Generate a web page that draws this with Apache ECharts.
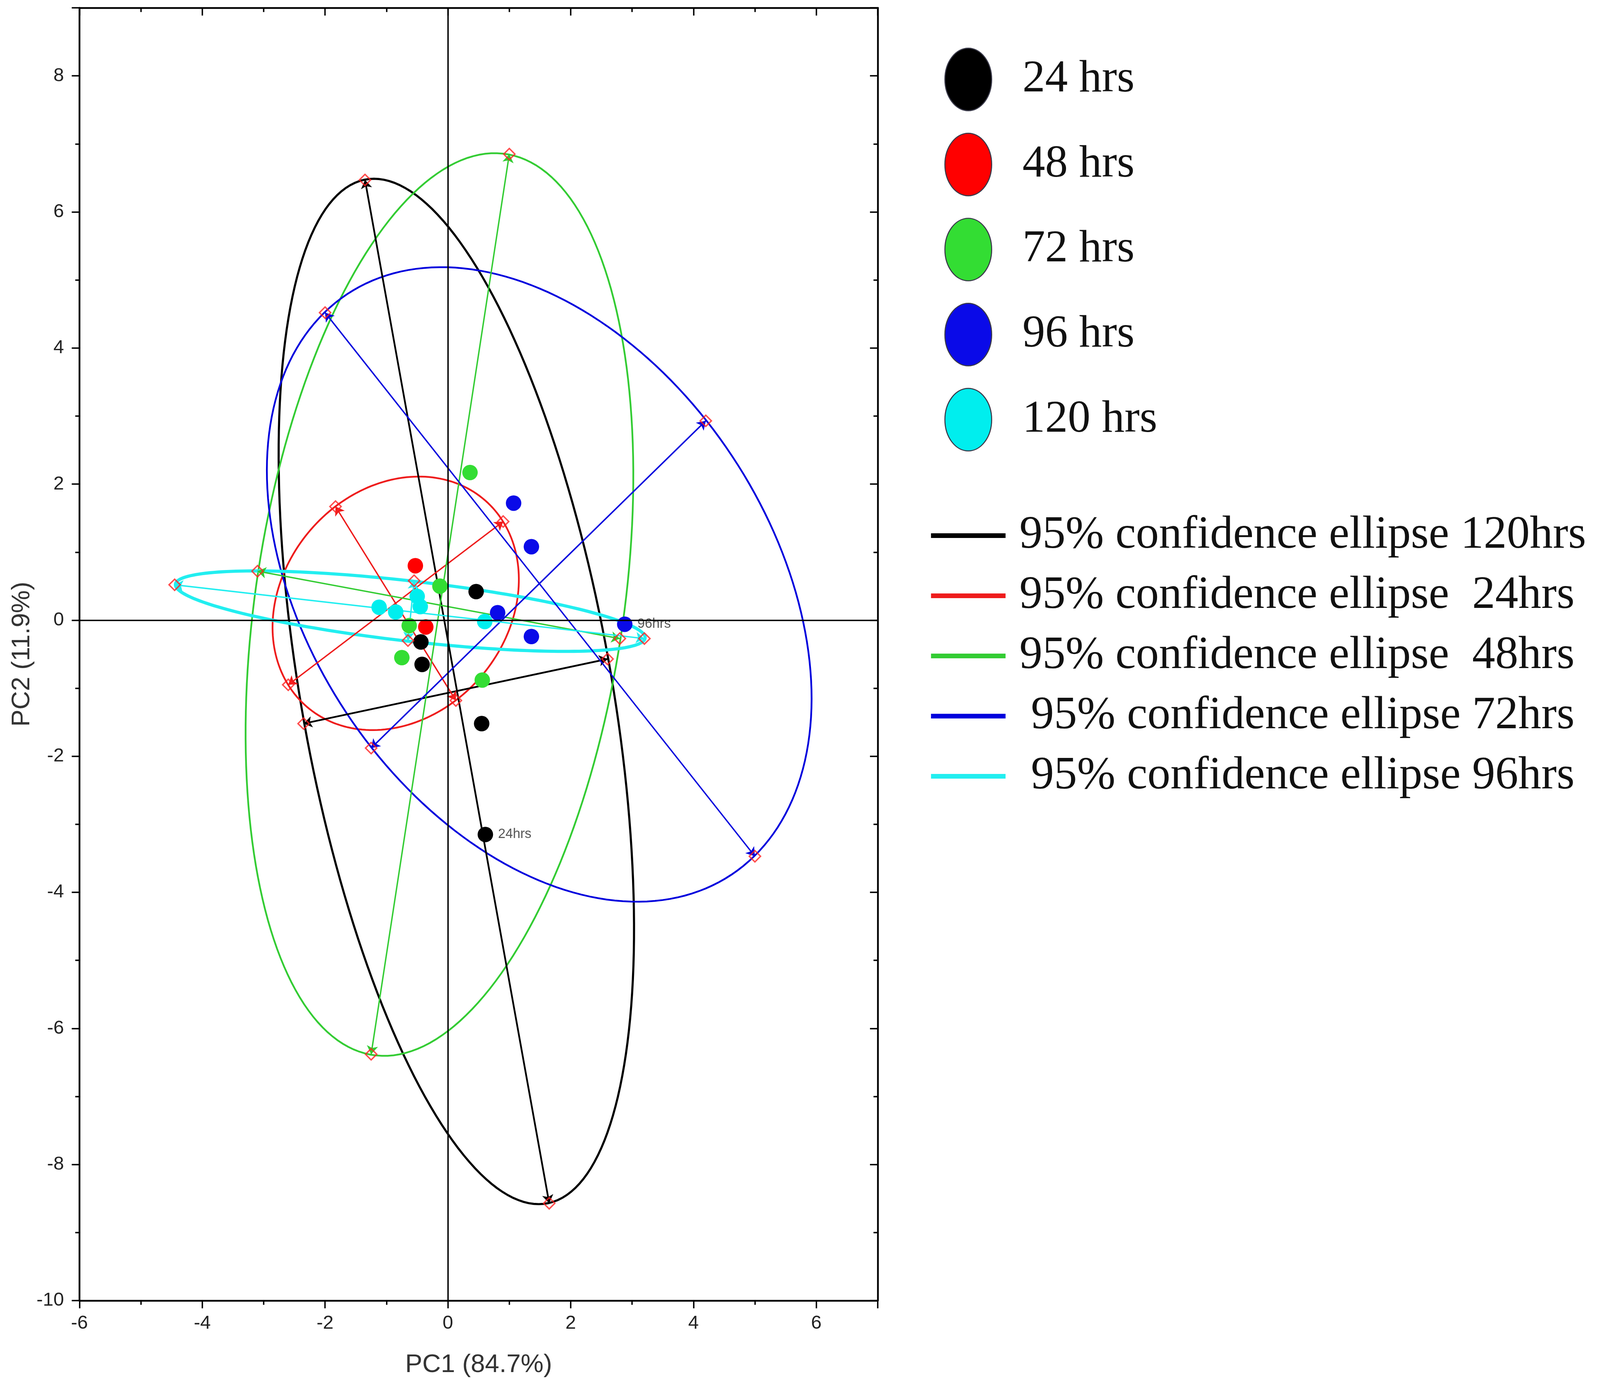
<!DOCTYPE html>
<html>
<head>
<meta charset="utf-8">
<title>PCA scores</title>
<script src="https://cdn.jsdelivr.net/npm/echarts@6/dist/echarts.min.js"></script>
<style>
  html, body { margin: 0; padding: 0; background: #fff; overflow: hidden; }
  #main { width: 100vw; height: 100vh; }
</style>
</head>
<body>
<div id="main"></div>
<script>
// groups and colours
var groups = ['24 hrs', '48 hrs', '72 hrs', '96 hrs', '120 hrs'];
var ellipseNames = [
  '95% confidence ellipse 120hrs',
  '95% confidence ellipse  24hrs',
  '95% confidence ellipse  48hrs',
  ' 95% confidence ellipse 72hrs',
  ' 95% confidence ellipse 96hrs'
];
var pointColors = ['#000000', '#ff0000', '#33dd33', '#0a0ae8', '#00eeee'];
var lineColors = ['#000000', '#ee1c1c', '#33cc33', '#0000dd', '#22eef0'];

// scores (PC1, PC2)
var pts24 = [[0.46, 0.42], [-0.44, -0.32], [-0.42, -0.65], [0.55, -1.52], [0.61, -3.15]];
var pts48 = [[-0.53, 0.80], [-0.36, -0.10]];
var pts72 = [[0.36, 2.17], [-0.13, 0.50], [-0.63, -0.08], [-0.75, -0.55], [0.56, -0.88]];
var pts96 = [[1.07, 1.72], [1.36, 1.08], [0.81, 0.11], [1.36, -0.24], [2.88, -0.06]];
var pts120 = [[-1.12, 0.19], [-0.85, 0.12], [-0.50, 0.35], [-0.45, 0.20], [0.60, -0.02]];
var points = [pts24, pts48, pts72, pts96, pts120];

// ellipse axis end points: [major end A, major end B], [minor end A, minor end B]
var majorAxes = [
  [[-1.35, 6.47], [1.65, -8.57]],
  [[-1.83, 1.67], [0.13, -1.18]],
  [[1.00, 6.85], [-1.25, -6.38]],
  [[-2.00, 4.52], [5.00, -3.47]],
  [[-4.45, 0.52], [3.20, -0.27]]
];
var minorAxes = [
  [[-2.35, -1.52], [2.60, -0.57]],
  [[0.90, 1.45], [-2.60, -0.95]],
  [[-3.10, 0.72], [2.80, -0.27]],
  [[4.20, 2.93], [-1.25, -1.88]],
  [[-0.55, 0.58], [-0.65, -0.30]]
];

// x and y tick labels
var xTicks = [-6, -4, -2, 0, 2, 4, 6];
var yTicks = [-10, -8, -6, -4, -2, 0, 2, 4, 6, 8];

window.onload = function () {
  var dom = document.getElementById('main');
  var myChart = echarts.init(dom);

  // layout was measured on a 4550 x 3563 page; scale to whatever we got
  var sx = dom.clientWidth / 4550;
  var sy = dom.clientHeight / 3563;
  var f = Math.min(sx, sy);

  function makeEllipse(lw) {
    return function (params, api) {
      var a = api.coord([api.value(0), api.value(1)]);
      var b = api.coord([api.value(2), api.value(3)]);
      var c = api.coord([api.value(4), api.value(5)]);
      var d = api.coord([api.value(6), api.value(7)]);
      var cx = (a[0] + b[0] + c[0] + d[0]) / 4;
      var cy = (a[1] + b[1] + c[1] + d[1]) / 4;
      var u = [(a[0] - b[0]) / 2, (a[1] - b[1]) / 2];
      var v = [(c[0] - d[0]) / 2, (c[1] - d[1]) / 2];
      var pts = [];
      for (var i = 0; i < 200; i++) {
        var t = i / 200 * Math.PI * 2;
        pts.push([cx + u[0] * Math.cos(t) + v[0] * Math.sin(t),
                  cy + u[1] * Math.cos(t) + v[1] * Math.sin(t)]);
      }
      return {
        type: 'polygon',
        shape: { points: pts },
        style: { fill: 'none', stroke: api.visual('color'), lineWidth: lw }
      };
    };
  }

  var series = [];
  // ellipses
  for (var k = 0; k < 5; k++) {
    var m = majorAxes[k], n = minorAxes[k];
    series.push({
      name: ellipseNames[k],
      type: 'custom',
      xAxisIndex: 0,
      yAxisIndex: 0,
      z: 2,
      silent: true,
      itemStyle: { color: lineColors[k] },
      renderItem: makeEllipse((k === 4 ? 9 : (k === 0 ? 6 : 5)) * f),
      encode: { x: [0, 2, 4, 6], y: [1, 3, 5, 7] },
      data: [[m[0][0], m[0][1], m[1][0], m[1][1], n[0][0], n[0][1], n[1][0], n[1][1]]]
    });
  }
  // ellipse axes with arrows
  for (var k2 = 0; k2 < 5; k2++) {
    series.push({
      name: 'axes' + k2,
      type: 'lines',
      coordinateSystem: 'cartesian2d',
      xAxisIndex: 0,
      yAxisIndex: 0,
      z: 3,
      silent: true,
      symbol: ['arrow', 'arrow'],
      symbolSize: 24 * f,
      lineStyle: { color: lineColors[k2], width: (k2 === 0 ? 5 : 4) * f, opacity: 1, curveness: 0 },
      data: [{ coords: majorAxes[k2] }, { coords: minorAxes[k2] }]
    });
  }
  // score points
  for (var g = 0; g < 5; g++) {
    var data = points[g].map(function (p) { return p.slice(); });
    if (g === 0) {
      data[4] = { value: pts24[4], label: { show: true, formatter: '24hrs' } };
    }
    if (g === 3) {
      data[4] = { value: pts96[4], label: { show: true, formatter: '96hrs' } };
    }
    var s = {
      name: groups[g],
      type: 'scatter',
      xAxisIndex: 0,
      yAxisIndex: 0,
      z: 4,
      symbol: 'circle',
      symbolSize: 44 * f,
      itemStyle: { color: pointColors[g], opacity: 1 },
      label: { show: false, position: 'right', distance: 14 * f, color: '#555', fontFamily: 'Liberation Sans', fontSize: 38 * f },
      data: data
    };
    if (g === 0) {
      s.markLine = {
        silent: true,
        symbol: 'none',
        label: { show: false },
        lineStyle: { color: '#000', width: 4 * f, type: 'solid' },
        data: [{ xAxis: 0 }, { yAxis: 0 }]
      };
    }
    series.push(s);
  }
  // axis end markers
  var ends = [];
  for (var e = 0; e < 5; e++) {
    ends.push(majorAxes[e][0], majorAxes[e][1], minorAxes[e][0], minorAxes[e][1]);
  }
  series.push({
    name: 'ends',
    type: 'scatter',
    xAxisIndex: 0,
    yAxisIndex: 0,
    z: 5,
    silent: true,
    symbol: 'diamond',
    symbolSize: 32 * f,
    itemStyle: { color: 'rgba(255,255,255,0)', borderColor: '#ff2020', borderWidth: 4 * f },
    data: ends
  });

  var lineW = 5 * f, tickW = 4 * f;
  var xBase = {
    type: 'value', min: -6, max: 7, interval: 2,
    splitLine: { show: false },
    axisLine: { show: true, onZero: false, lineStyle: { color: '#000', width: lineW } },
    minorTick: { show: true, splitNumber: 2, length: 12 * f, lineStyle: { color: '#000', width: tickW } }
  };
  var yBase = {
    type: 'value', min: -10, max: 9, interval: 2,
    splitLine: { show: false },
    axisLine: { show: true, onZero: false, lineStyle: { color: '#000', width: lineW } },
    minorTick: { show: true, splitNumber: 2, length: 12 * f, lineStyle: { color: '#000', width: tickW } }
  };
  var tickLabel = { fontFamily: 'Liberation Sans', fontSize: 54 * f, color: '#222', showMaxLabel: false };

  var option = {
    backgroundColor: '#ffffff',
    animation: false,
    grid: { left: 226 * sx, right: 2054 * sx, top: 20 * sy, bottom: 234 * sy },
    xAxis: [
      Object.assign({}, xBase, {
        position: 'bottom',
        name: 'PC1 (84.7%)',
        nameLocation: 'middle',
        nameGap: 132 * sy,
        nameTextStyle: { fontFamily: 'Liberation Sans', fontSize: 73 * f, color: '#333' },
        axisTick: { show: true, inside: false, length: 22 * f, lineStyle: { color: '#000', width: tickW } },
        axisLabel: Object.assign({}, tickLabel, {
          margin: 34 * sy,
          formatter: function (v) { return xTicks.indexOf(v) >= 0 ? String(v) : ''; }
        })
      }),
      Object.assign({}, xBase, {
        position: 'top',
        axisTick: { show: true, inside: true, length: 22 * f, lineStyle: { color: '#000', width: tickW } },
        axisLabel: { show: false }
      })
    ],
    yAxis: [
      Object.assign({}, yBase, {
        position: 'left',
        name: 'PC2 (11.9%)',
        nameLocation: 'middle',
        nameGap: 124 * sx,
        nameTextStyle: { fontFamily: 'Liberation Sans', fontSize: 73 * f, color: '#333' },
        axisTick: { show: true, inside: false, length: 22 * f, lineStyle: { color: '#000', width: tickW } },
        axisLabel: Object.assign({}, tickLabel, {
          margin: 44 * sx,
          formatter: function (v) { return yTicks.indexOf(v) >= 0 ? String(v) : ''; }
        })
      }),
      Object.assign({}, yBase, {
        position: 'right',
        axisTick: { show: true, inside: true, length: 22 * f, lineStyle: { color: '#000', width: tickW } },
        axisLabel: { show: false }
      })
    ],
    legend: [
      {
        orient: 'vertical',
        left: 2680 * sx,
        top: 117 * sy,
        itemWidth: 133 * sx,
        itemHeight: 160 * sy,
        itemGap: 55 * sy,
        selectedMode: false,
        symbolKeepAspect: false,
        icon: 'path://M50,0A50,50,0,1,1,50,100A50,50,0,1,1,50,0Z',
        itemStyle: { borderColor: '#3a3a4a', borderWidth: 3 * f },
        textStyle: { fontFamily: 'Liberation Serif', fontSize: 129 * f, color: '#111', padding: [0, 0, 0, 82 * sx] },
        data: groups
      },
      {
        orient: 'vertical',
        left: 2642 * sx,
        top: 1296 * sy,
        itemWidth: 212 * sx,
        itemHeight: 12 * sy,
        itemGap: 14 * sy,
        selectedMode: false,
        icon: 'rect',
        itemStyle: { borderWidth: 0 },
        textStyle: { fontFamily: 'Liberation Serif', fontSize: 131 * f, lineHeight: 140 * sy, color: '#111', padding: [0, 0, 0, 34 * sx] },
        data: ellipseNames
      }
    ],
    series: series
  };

  myChart.setOption(option);
};
</script>
</body>
</html>
